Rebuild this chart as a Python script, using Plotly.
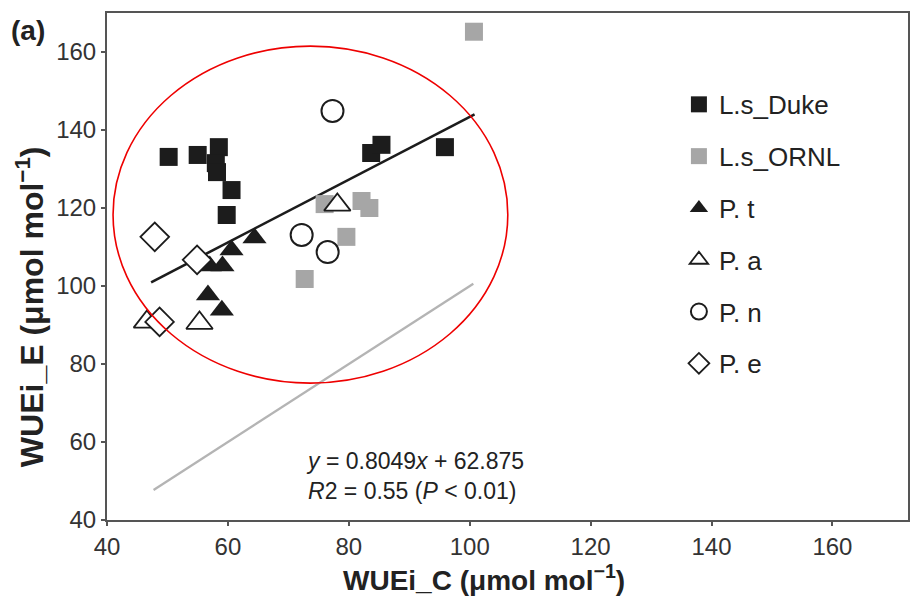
import plotly.graph_objects as go

# WUEi from control (C) vs elevated (E) CO2, per species/site
duke_x = [50.2, 55.0, 58.5, 58.0, 58.2, 60.6, 59.8, 83.7, 85.4, 95.9]
duke_y = [133.1, 133.6, 135.6, 131.5, 129.2, 124.6, 118.2, 134.1, 136.2, 135.6]

ornl_x = [100.7, 76.0, 82.1, 83.4, 79.6, 72.7]
ornl_y = [165.2, 121.0, 121.8, 120.0, 112.6, 101.8]

pt_x = [64.4, 60.6, 57.0, 59.1, 56.7, 59.0]
pt_y = [112.3, 109.2, 105.1, 105.1, 97.7, 93.8]

pa_x = [46.6, 55.3, 78.1]
pa_y = [90.8, 90.5, 120.8]

pn_x = [77.3, 72.2, 76.5]
pn_y = [144.9, 113.1, 108.7]

pe_x = [47.9, 54.9, 48.7]
pe_y = [112.6, 106.7, 90.8]

# fitted regression and 1:1 reference line
slope, intercept = 0.8049, 62.875
fit_x = [47.3, 100.8]
one_x = [47.7, 100.6]

TICKS = [40, 60, 80, 100, 120, 140, 160]

FONT = "Liberation Sans, Arial, sans-serif"
INK = "#1c1c1c"
GREY = "#a6a6a6"

fig = go.Figure()

fig.add_trace(go.Scatter(
    x=one_x, y=one_x, mode="lines", showlegend=False,
    line=dict(color="#b4b4b4", width=2.3)))
fig.add_trace(go.Scatter(
    x=fit_x, y=[slope * v + intercept for v in fit_x], mode="lines",
    showlegend=False, line=dict(color=INK, width=2.6)))

series = [
    ("L.s_Duke", duke_x, duke_y, "square", 18, INK, INK, 0),
    ("L.s_ORNL", ornl_x, ornl_y, "square", 18, GREY, GREY, 0),
    ("P. t", pt_x, pt_y, "triangle-up", 21, INK, INK, 0),
    ("P. a", pa_x, pa_y, "triangle-up", 23, "white", INK, 1.8),
    ("P. n", pn_x, pn_y, "circle", 22, "white", INK, 2.0),
    ("P. e", pe_x, pe_y, "diamond", 22, "white", INK, 1.8),
]
for i, (name, xs, ys, sym, size, fill, edge, lw) in enumerate(series):
    fig.add_trace(go.Scatter(
        x=xs, y=ys, mode="markers", name=name, legendgroup=f"g{i}",
        marker=dict(symbol=sym, size=size, color=fill,
                    line=dict(color=edge, width=lw))))

# highlighted cluster
fig.add_shape(type="circle", xref="x", yref="y",
              x0=41.0, x1=106.3, y0=75.1, y1=161.5,
              line=dict(color="#ee0000", width=1.6), layer="above")

# regression statistics
fig.add_annotation(
    x=0.246, y=0.086, xref="paper", yref="paper", xanchor="left",
    yanchor="middle", align="left", showarrow=False,
    text="<i>y</i> = 0.8049<i>x</i> + 62.875<br><i>R</i>2 = 0.55 (<i>P</i> < 0.01)",
    font=dict(family=FONT, size=23, color="#222"))

# panel label
fig.add_annotation(
    x=-0.122, y=0.966, xref="paper", yref="paper", xanchor="left",
    yanchor="middle", showarrow=False, text="<b>(a)</b>",
    font=dict(family=FONT, size=28, color="#222"))

# axis titles
fig.add_annotation(
    x=0.471, y=-0.114, xref="paper", yref="paper", showarrow=False,
    xanchor="center", yanchor="middle",
    text="<b>WUEi_C (μmol mol<sup>−1</sup>)</b>",
    font=dict(family=FONT, size=28, color="#222"))
fig.add_annotation(
    x=-0.096, y=0.42, xref="paper", yref="paper", showarrow=False,
    xanchor="center", yanchor="middle",
    textangle=-90, text="<b>WUEi_E (μmol mol<sup>−1</sup>)</b>",
    font=dict(family=FONT, size=32, color="#222"))

axis_common = dict(
    tickvals=TICKS, showgrid=False, zeroline=False, showline=True,
    mirror=True, linecolor="#555", linewidth=2, ticks="outside",
    ticklen=4, tickcolor="#555", tickwidth=1.5,
    tickfont=dict(family=FONT, size=24, color="#333"))

fig.update_layout(
    width=913, height=601,
    margin=dict(l=107, r=3, t=13, b=81),
    paper_bgcolor="white", plot_bgcolor="white",
    xaxis=dict(range=[40, 172.5], **axis_common),
    yaxis=dict(range=[40, 170], **axis_common),
    legend=dict(x=0.714, y=0.866, xanchor="left", yanchor="top",
                font=dict(family=FONT, size=26, color="#222"),
                tracegroupgap=15, bgcolor="rgba(0,0,0,0)"),
)

fig.write_html("out.html")
